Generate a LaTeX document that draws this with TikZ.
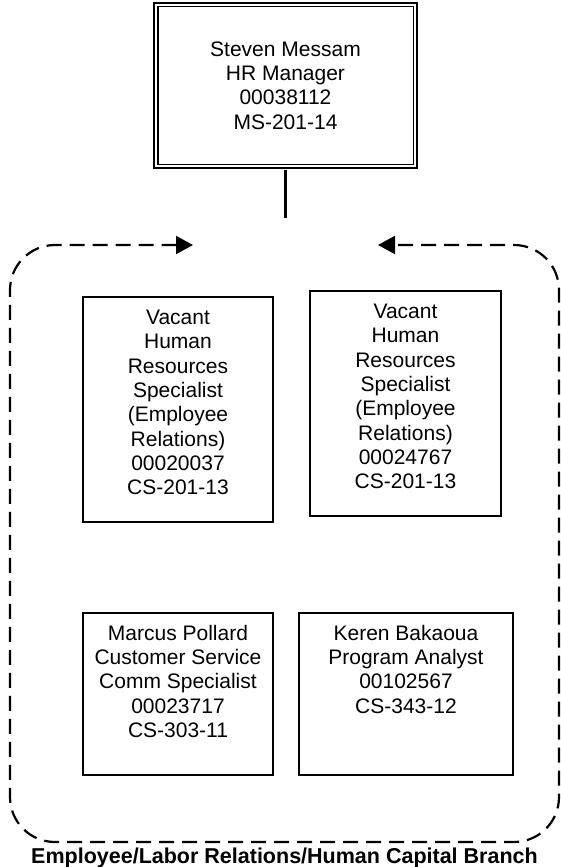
\documentclass[tikz,border=0pt]{standalone}
\usepackage{fontspec}
\setmainfont{Liberation Sans}
\usetikzlibrary{arrows.meta,positioning}

\tikzset{
  mgrbox/.style={draw, double, line width=1.7pt, double distance=2.1pt,
    minimum width=259.5pt, minimum height=161.5pt, inner sep=0pt,
    align=center, font=\fontsize{21}{24.3}\selectfont},
  post/.style={draw, line width=2.2pt, minimum width=190pt, minimum height=225pt, inner sep=0pt},
  info/.style={align=center, inner sep=0pt, font=\fontsize{21}{24.3}\selectfont},
  link/.style={line width=2.2pt},
  branch/.style={line width=2.2pt, dash pattern=on 15pt off 8pt, rounded corners=45pt,
    {Triangle[length=17pt,width=18pt]}-{Triangle[length=17pt,width=18pt]}},
}

\begin{document}
\begin{tikzpicture}[x=1pt, y=-1pt]
\useasboundingbox (0,0) rectangle (561,867);

% Manager
\node[mgrbox] (mgr) at (285.5,85.5) {Steven Messam\\HR Manager\\00038112\\MS-201-14};
\coordinate (drop) at (285.5,218);
\draw[link] ([yshift=-2.75pt]mgr.south) -- (drop);

% Branch outline with the opening at the top
\coordinate (gapL) at (193,245);
\coordinate (gapR) at (378,245);
\draw[branch] (gapL) -- (10,245) -- (10,842) -- (559,842) -- (559,245) -- (gapR);

% Upper positions
\node[post] (vacA) at (178,409.5) {};
\node[info, below=14pt of vacA.north] (vacAtxt) {Vacant\\Human\\Resources\\Specialist\\(Employee\\Relations)\\00020037\\CS-201-13};
\node[post, minimum width=191pt] (vacB) at (405.5,403.5) {};
\node[info, below=14pt of vacB.north] (vacBtxt) {Vacant\\Human\\Resources\\Specialist\\(Employee\\Relations)\\00024767\\CS-201-13};

% Lower positions
\node[post, minimum height=162pt] (pollard) at (178,694) {};
\node[info, below=13pt of pollard.north] (pollardtxt) {Marcus Pollard\\Customer Service\\Comm Specialist\\00023717\\CS-303-11};
\node[post, minimum width=214pt, minimum height=162pt] (bakaoua) at (406,694) {};
\node[info, below=13pt of bakaoua.north] (bakaouatxt) {Keren Bakaoua\\Program Analyst\\00102567\\CS-343-12};

% Branch name
\node[font=\bfseries\fontsize{21.5}{24}\selectfont, anchor=base] (branchname) at (284.5,863) {Employee/Labor Relations/Human Capital Branch};
\end{tikzpicture}
\end{document}
